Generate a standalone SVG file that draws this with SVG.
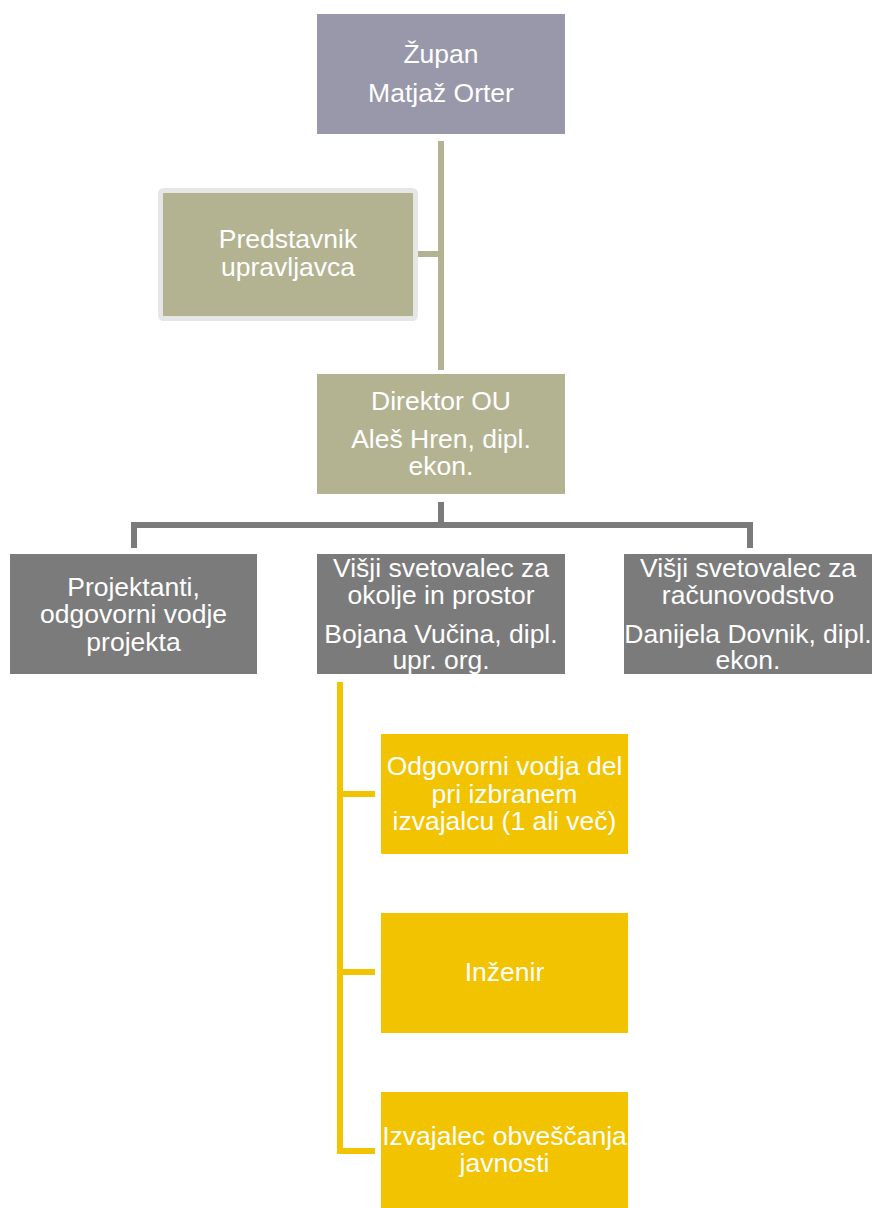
<svg xmlns="http://www.w3.org/2000/svg" width="874" height="1208" viewBox="0 0 874 1208">
<style>
text{font-family:"Liberation Sans",Arial,sans-serif;font-size:26.5px;fill:#fff;text-anchor:middle}
.c{fill:none;stroke-width:6}
.ol{stroke:#B3B392}
.gr{stroke:#7B7B7B}
.ye{stroke:#F2C300}
</style>
<rect width="874" height="1208" fill="#fff"/>
<g id="connectors">
<path class="c ol" d="M441 141V370M418 254H441"/>
<path class="c gr" d="M441 502V525M134 548V525H750V548"/>
<path class="c ye" d="M340 682V1151H375M340 794H375M340 972H375"/>
</g>
<g id="zupan">
<rect x="317" y="14" width="248" height="120" fill="#9898AA"/>
<text x="441" y="63">Župan</text>
<text x="441" y="102">Matjaž Orter</text>
</g>
<g id="predstavnik">
<rect x="160.5" y="190.5" width="255" height="128" rx="3" fill="#B3B392" stroke="#E6E6E6" stroke-width="5"/>
<text x="288" y="248">Predstavnik</text>
<text x="288" y="276">upravljavca</text>
</g>
<g id="direktor">
<rect x="317" y="374" width="248" height="120" fill="#B3B392"/>
<text x="441" y="410">Direktor OU</text>
<text x="441" y="448">Aleš Hren, dipl.</text>
<text x="441" y="475">ekon.</text>
</g>
<g id="projektanti">
<rect x="10" y="554" width="247" height="120" fill="#7B7B7B"/>
<text x="133.5" y="596">Projektanti,</text>
<text x="133.5" y="623">odgovorni vodje</text>
<text x="133.5" y="651">projekta</text>
</g>
<g id="svetovalec-okolje">
<rect x="317" y="554" width="248" height="120" fill="#7B7B7B"/>
<text x="441" y="577">Višji svetovalec za</text>
<text x="441" y="604">okolje in prostor</text>
<text x="441" y="643">Bojana Vučina, dipl.</text>
<text x="441" y="669">upr. org.</text>
</g>
<g id="svetovalec-racunovodstvo">
<rect x="624" y="554" width="248" height="120" fill="#7B7B7B"/>
<text x="748" y="577">Višji svetovalec za</text>
<text x="748" y="604">računovodstvo</text>
<text x="748" y="643">Danijela Dovnik, dipl.</text>
<text x="748" y="669">ekon.</text>
</g>
<g id="odgovorni-vodja">
<rect x="381" y="734" width="247" height="120" fill="#F2C300"/>
<text x="504.5" y="775">Odgovorni vodja del</text>
<text x="504.5" y="803">pri izbranem</text>
<text x="504.5" y="830">izvajalcu (1 ali več)</text>
</g>
<g id="inzenir">
<rect x="381" y="913" width="247" height="120" fill="#F2C300"/>
<text x="504.5" y="981">Inženir</text>
</g>
<g id="izvajalec">
<rect x="381" y="1092" width="247" height="120" fill="#F2C300"/>
<text x="504.5" y="1145">Izvajalec obveščanja</text>
<text x="504.5" y="1172">javnosti</text>
</g>
</svg>
